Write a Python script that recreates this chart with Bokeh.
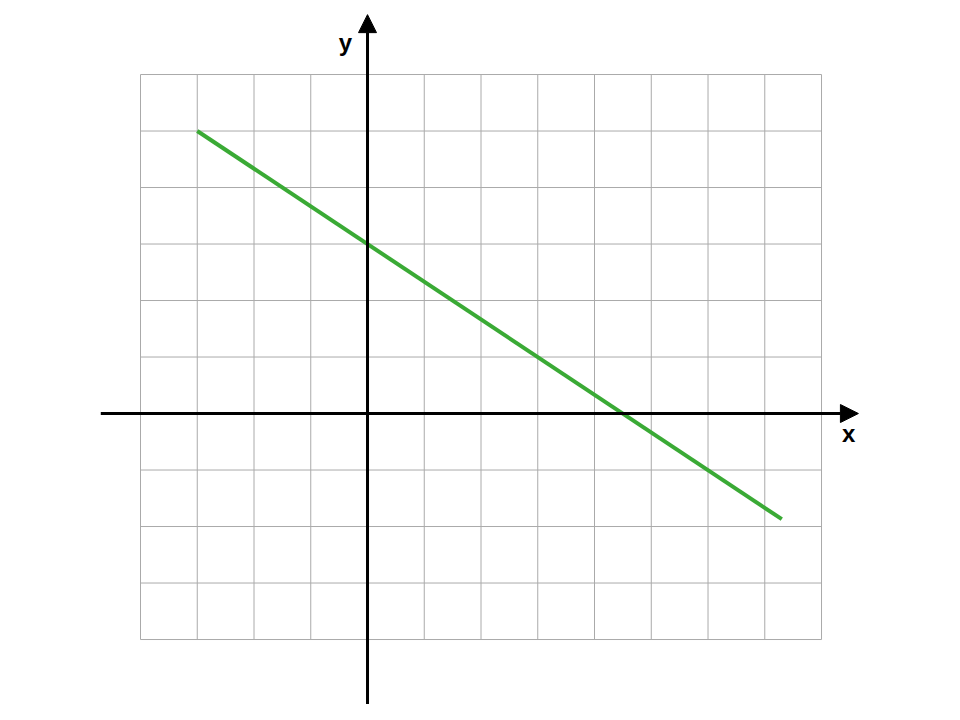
from bokeh.plotting import figure
from bokeh.models import Range1d, Arrow, NormalHead
from bokeh.core.properties import value
from bokeh.embed import file_html
from bokeh.resources import INLINE

# grid ticks
x_ticks = [-4, -3, -2, -1, 0, 1, 2, 3, 4, 5, 6, 7, 8]
y_ticks = [-4, -3, -2, -1, 0, 1, 2, 3, 4, 5, 6]

# line endpoints
line_x = [-3, 7.3]
line_y = [5, -1.87]

# axes extents
x_axis_span = [-4.7, 8.65]
y_axis_span = [-5.15, 7.06]

p = figure(width=944, height=704, output_backend="svg", toolbar_location=None,
           x_range=Range1d(-6.467, 10.167), y_range=Range1d(-5.150, 7.310),
           min_border=0)
p.axis.visible = False
p.grid.visible = False
p.outline_line_color = None
p.background_fill_color = "white"
p.border_fill_color = "white"

# grid
p.segment(x0=x_ticks, x1=x_ticks, y0=[min(y_ticks)] * len(x_ticks), y1=[max(y_ticks)] * len(x_ticks),
          line_color="#aaaaaa", line_width=1)
p.segment(x0=[min(x_ticks)] * len(y_ticks), x1=[max(x_ticks)] * len(y_ticks), y0=y_ticks, y1=y_ticks,
          line_color="#aaaaaa", line_width=1)

# axes with arrows
p.add_layout(Arrow(x_start=x_axis_span[0], y_start=0, x_end=x_axis_span[1], y_end=0,
                   line_color="black", line_width=3,
                   end=NormalHead(size=18, fill_color="black", line_color="black", line_width=1)))
p.add_layout(Arrow(x_start=0, y_start=y_axis_span[0], x_end=0, y_end=y_axis_span[1],
                   line_color="black", line_width=3,
                   end=NormalHead(size=18, fill_color="black", line_color="black", line_width=1)))

# the function line
p.line(line_x, line_y, line_color="#3aaa35", line_width=4)

# labels
p.text(x=[8.48], y=[-0.35], text=["x"], text_font=value("Liberation Sans"), text_font_style="bold",
       text_font_size="24px", text_align="center", text_baseline="middle", text_color="black")
p.text(x=[-0.39], y=[6.57], text=["y"], text_font=value("Liberation Sans"), text_font_style="bold",
       text_font_size="24px", text_align="center", text_baseline="middle", text_color="black")

open("out.html", "w").write(file_html(p, INLINE))
